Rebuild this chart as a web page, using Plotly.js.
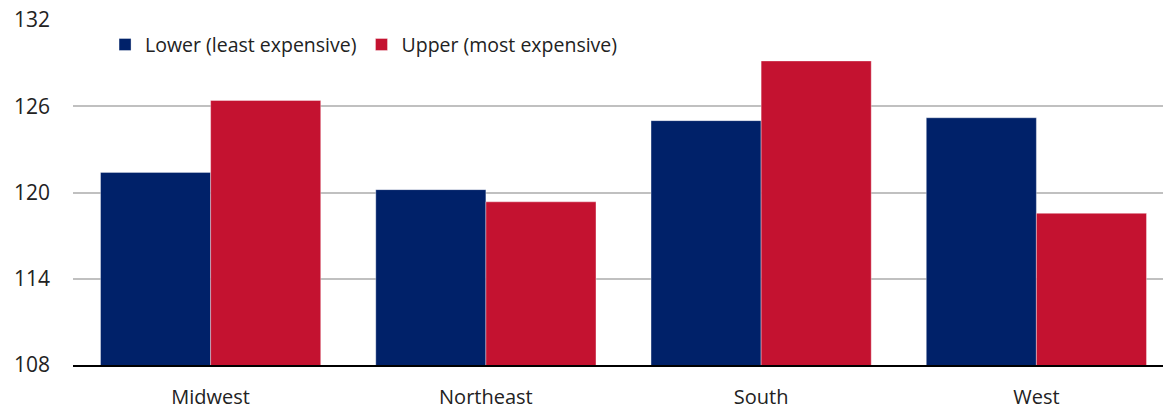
<!DOCTYPE html>
<html><head><meta charset="utf-8">
<script src="https://cdn.plot.ly/plotly-3.0.1.min.js"></script>
<style>html,body{margin:0;padding:0;background:#fff}#chart{width:1163px;height:408px}</style>
</head><body><div id="chart"></div>
<script>
const categories = ["Midwest", "Northeast", "South", "West"];
const lowerValues = [121.4, 120.2, 125.0, 125.2];
const upperValues = [126.4, 119.35, 129.15, 118.55];
const seriesNames = ["Lower (least expensive)", "Upper (most expensive)"];
const yTicks = [108, 114, 120, 126, 132];

const font = "Open Sans, sans-serif";
const traces = [
  {type: "bar", x: categories, y: lowerValues, name: seriesNames[0],
   marker: {color: "#002169", line: {color: "rgba(255,255,255,0.6)", width: 0.6}}, hoverinfo: "none"},
  {type: "bar", x: categories, y: upperValues, name: seriesNames[1],
   marker: {color: "#C41230", line: {color: "rgba(255,255,255,0.6)", width: 0.6}}, hoverinfo: "none"}
];
const layout = {
  width: 1163, height: 408,
  margin: {l: 73, r: 0, t: 20, b: 43},
  paper_bgcolor: "#fff", plot_bgcolor: "#fff",
  barmode: "group", bargap: 0.2, bargroupgap: 0,
  font: {family: font, size: 20, color: "#222"},
  xaxis: {type: "category", range: [-0.5, 3.46], showgrid: false, zeroline: false,
          showline: true, linecolor: "#000", linewidth: 1.5, ticks: "", ticklabelstandoff: 13,
          tickfont: {family: font, size: 20, color: "#222"}},
  yaxis: {range: [108, 132], tickvals: yTicks, ticktext: yTicks.map(String),
          showgrid: true, gridcolor: "#c0c0c0", gridwidth: 2, zeroline: false, showline: false,
          ticks: "", ticklabelstandoff: 22, tickfont: {family: font, size: 21, color: "#222"}},
  legend: {orientation: "h", x: 0.0294, xanchor: "left", y: 0.928, yanchor: "middle",
           font: {family: font, size: 19.5, color: "#222"}, bgcolor: "rgba(0,0,0,0)",
           itemwidth: 30, tracegroupgap: 0},
  showlegend: true
};
Plotly.newPlot("chart", traces, layout, {staticPlot: true, displayModeBar: false});
</script></body></html>
